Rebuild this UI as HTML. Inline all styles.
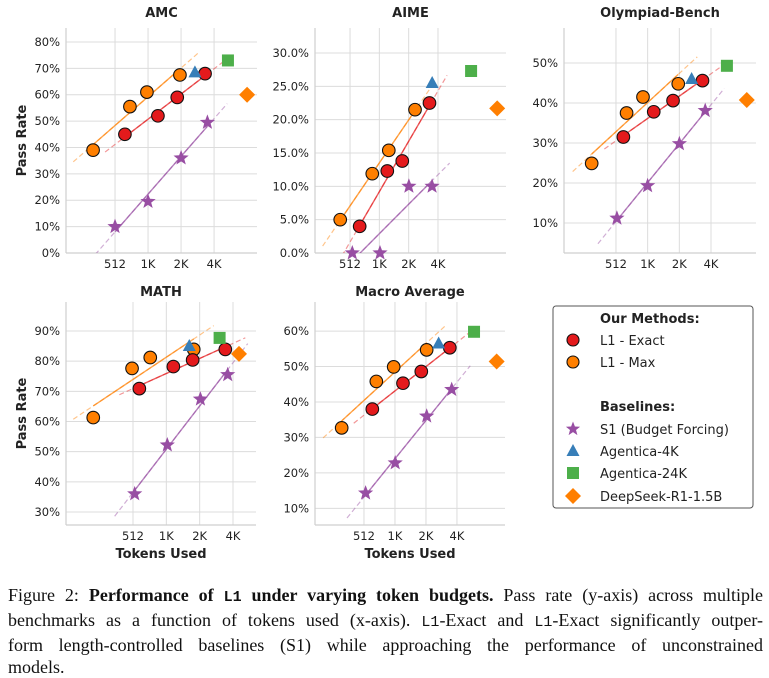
<!DOCTYPE html>
<html><head><meta charset="utf-8">
<style>
html,body{margin:0;padding:0;background:#fff;}
body{width:769px;height:674px;position:relative;overflow:hidden;}
svg{position:absolute;left:0;top:0;}
#caption{position:absolute;left:8px;top:584px;width:755px;font-family:"Liberation Serif",serif;font-size:18px;line-height:22px;color:#111;}
#caption div{white-space:nowrap;text-align:justify;text-align-last:justify;}
#caption div.last{text-align-last:left;}
.mono{font-family:"Liberation Mono",monospace;font-size:15px;}
</style></head>
<body>
<svg id="fig" width="769" height="574" font-family="DejaVu Sans, Liberation Sans, sans-serif"></svg>
<div id="caption">
<div>Figure 2: <b>Performance of <span class="mono">L1</span> under varying token budgets.</b> Pass rate (y-axis) across multiple</div>
<div>benchmarks as a function of tokens used (x-axis). <span class="mono">L1</span>-Exact and <span class="mono">L1</span>-Exact significantly outper-</div>
<div>form length-controlled baselines (S1) while approaching the performance of unconstrained</div>
<div class="last">models.</div>
</div>
<script>
// Data: tokens and pass rates (%) per panel
const panelNames = ["AMC","AIME","Olympiad-Bench","MATH","Macro Average"];
const maxTokens = [[323,700,1000,2000],[406,866,1280,2380],[301,646,925,2000],[224,502,733,1810],[311,675,995,2080]];
const maxRates = [[39,55.5,61,67.5],[5.0,11.9,15.4,21.5],[24.9,37.5,41.5,44.8],[61.3,77.6,81.2,83.9],[32.7,45.8,49.9,54.7]];
const exactTokens = [[630,1260,1890,3390],[643,1235,1760,3350],[602,1170,1785,3400],[584,1185,1770,3490],[617,1225,1845,3490]];
const exactRates = [[45,52,59,68],[4.0,12.3,13.8,22.5],[31.5,37.8,40.6,45.6],[70.9,78.2,80.4,83.9],[38,45.3,48.6,55.3]];
const s1Tokens = [[512,1024,2050,3560],[540,1040,2060,3560],[523,1024,2050,3610],[530,1045,2080,3670],[531,1030,2080,3640]];
const s1Rates = [[10,19.5,36,49.5],[0,0,10,10],[11.2,19.3,29.8,38.1],[36,52.2,67.4,75.5],[14.3,22.8,36,43.5]];
const agentica4kTokens = [2740,3570,2680,1650,2720];
const agentica4kRates = [68.5,25.5,46,85,56.5];
const agentica24kTokens = [5480,8960,5800,3100,6000];
const agentica24kRates = [73,27.3,49.3,87.7,59.8];
const deepseekTokens = [8190,16600,8960,4640,9950];
const deepseekRates = [60,21.7,40.75,82.4,51.4];
const xTickValues = [512,1024,2048,4096];
const xTickLabels = ["512","1K","2K","4K"];
const yTicks = [[0,10,20,30,40,50,60,70,80],[0,5,10,15,20,25,30],[10,20,30,40,50],[30,40,50,60,70,80,90],[10,20,30,40,50,60]];
const yTickDecimals = [0,1,0,0,0];

// Layout (pixels)
const layout = [
 {l:66,r:257,t:28,b:253,xmin:7.515,xmax:13.30,ymin:0,ymax:85.3,ylabel:true,xlabel:false,ty:17},
 {l:315,r:506,t:28,b:253,xmin:7.805,xmax:14.32,ymin:0,ymax:33.75,ylabel:false,xlabel:false,ty:17},
 {l:564,r:756,t:28,b:253,xmin:7.36,xmax:13.42,ymin:2.5,ymax:58.75,ylabel:false,xlabel:false,ty:17},
 {l:66,r:256,t:302,b:525,xmin:6.99,xmax:12.69,ymin:25.7,ymax:99.6,ylabel:true,xlabel:true,ty:296},
 {l:315,r:505,t:302,b:525,xmin:7.42,xmax:13.55,ymin:5.3,ymax:68.2,ylabel:false,xlabel:true,ty:296}
];
const C={red:"#e41a1c",orange:"#ff7f00",purple:"#984ea3",blue:"#377eb8",green:"#4daf4a"};
const NS="http://www.w3.org/2000/svg";
const svg=document.getElementById('fig');
function mk(tag,attrs,parent){const e=document.createElementNS(NS,tag);for(const k in attrs)e.setAttribute(k,attrs[k]);(parent||svg).appendChild(e);return e;}
function starPts(cx,cy,R){const r=R*0.42;let p=[];for(let i=0;i<10;i++){const a=-Math.PI/2+i*Math.PI/5;const rr=i%2?r:R;p.push((cx+rr*Math.cos(a)).toFixed(1)+","+(cy+rr*Math.sin(a)).toFixed(1));}return p.join(" ");}

layout.forEach((L,pi)=>{
  const g=mk('g',{});
  
  
  const X=t=>L.l+(Math.log2(t)-L.xmin)/(L.xmax-L.xmin)*(L.r-L.l);
  const Y=v=>L.b-(v-L.ymin)/(L.ymax-L.ymin)*(L.b-L.t);
  const clipId='clip'+pi;
  const cp=mk('clipPath',{id:clipId},g);mk('rect',{x:L.l,y:L.t,width:L.r-L.l,height:L.b-L.t},cp);
  yTicks[pi].forEach(v=>{
    const ln=mk('line',{x1:L.l,x2:L.r,y1:Y(v),y2:Y(v),stroke:"#dcdcdc","stroke-width":1},g);
    
    const tx=mk('text',{x:L.l-6,y:Y(v)+4,"text-anchor":"end","font-size":"11.5",fill:"#222"},g);
    tx.textContent=v.toFixed(yTickDecimals[pi])+"%";
    
  });
  xTickValues.forEach((t,i)=>{
    const ln=mk('line',{x1:X(t),x2:X(t),y1:L.t,y2:L.b,stroke:"#dcdcdc","stroke-width":1},g);
    
    const tx=mk('text',{x:X(t),y:L.b+15,"text-anchor":"middle","font-size":"11.5",fill:"#222"},g);
    tx.textContent=xTickLabels[i];
    
  });
  mk('line',{x1:L.l,x2:L.l,y1:L.t,y2:L.b,stroke:"#cfcfcf","stroke-width":1.2},g);
  mk('line',{x1:L.l,x2:L.r,y1:L.b,y2:L.b,stroke:"#cfcfcf","stroke-width":1.2},g);
  const tt=mk('text',{x:(L.l+L.r)/2,y:L.ty,"text-anchor":"middle","font-size":"13","font-weight":"bold",fill:"#222"},g);
  tt.textContent=panelNames[pi];
  if(L.ylabel){const yl=mk('text',{x:0,y:0,transform:`translate(26,${(L.t+L.b)/2}) rotate(-90)`,"text-anchor":"middle","font-size":"13","font-weight":"bold",fill:"#222"},g);yl.textContent="Pass Rate";}
  if(L.xlabel){const xl=mk('text',{x:(L.l+L.r)/2,y:558,"text-anchor":"middle","font-size":"13","font-weight":"bold",fill:"#222"},g);xl.textContent="Tokens Used";}
  function fit(ts,vs,color,name){
    const xs=ts.map(Math.log2);const n=xs.length;const mx=xs.reduce((a,b)=>a+b)/n,my=vs.reduce((a,b)=>a+b)/n;
    let sxy=0,sxx=0;xs.forEach((x,i)=>{sxy+=(x-mx)*(vs[i]-my);sxx+=(x-mx)*(x-mx);});
    const s=sxy/sxx,b=my-s*mx;const lo=Math.min(...xs),hi=Math.max(...xs);
    const P=x=>[L.l+(x-L.xmin)/(L.xmax-L.xmin)*(L.r-L.l),Y(s*x+b)];
    const cg=mk('g',{"clip-path":`url(#${clipId})`},g);
    const [a1,b1]=P(lo-0.6),[a2,b2]=P(hi+0.6),[c1,d1]=P(lo),[c2,d2]=P(hi);
    const dl=mk('line',{x1:a1,y1:b1,x2:a2,y2:b2,stroke:color,"stroke-width":1.2,"stroke-dasharray":"5,3",opacity:0.45},cg);
    
    const sl=mk('line',{x1:c1,y1:d1,x2:c2,y2:d2,stroke:color,"stroke-width":1.4,opacity:0.7},cg);
    
  }
  fit(maxTokens[pi],maxRates[pi],C.orange,'l1-max');
  fit(exactTokens[pi],exactRates[pi],C.red,'l1-exact');
  fit(s1Tokens[pi],s1Rates[pi],C.purple,'s1');
  s1Tokens[pi].forEach((t,i)=>{const e=mk('polygon',{points:starPts(X(t),Y(s1Rates[pi][i]),8),fill:C.purple},g);});
  maxTokens[pi].forEach((t,i)=>{const e=mk('circle',{cx:X(t),cy:Y(maxRates[pi][i]),r:6.3,fill:C.orange,stroke:"#111","stroke-width":1.1},g);});
  exactTokens[pi].forEach((t,i)=>{const e=mk('circle',{cx:X(t),cy:Y(exactRates[pi][i]),r:6.3,fill:C.red,stroke:"#111","stroke-width":1.1},g);});
  let x=X(agentica4kTokens[pi]),y=Y(agentica4kRates[pi]);
  let e=mk('polygon',{points:`${x},${y-7} ${x-6.5},${y+5} ${x+6.5},${y+5}`,fill:C.blue},g);
  x=X(agentica24kTokens[pi]);y=Y(agentica24kRates[pi]);
  e=mk('rect',{x:x-6,y:y-6,width:12,height:12,fill:C.green},g);
  x=X(deepseekTokens[pi]);y=Y(deepseekRates[pi]);
  e=mk('polygon',{points:`${x},${y-8} ${x+8},${y} ${x},${y+8} ${x-8},${y}`,fill:C.orange},g);
});

const lg=mk('g',{});

mk('rect',{x:553,y:306,width:200,height:202,rx:3,fill:"#fff",stroke:"#555","stroke-width":1},lg);
const entries=[["Our Methods:",318,null],["L1 - Exact",340,"exact"],["L1 - Max",362,"max"],["Baselines:",406,null],["S1 (Budget Forcing)",429,"s1"],["Agentica-4K",451,"a4"],["Agentica-24K",473,"a24"],["DeepSeek-R1-1.5B",496,"ds"]];
entries.forEach(([label,y,k])=>{
  const t=mk('text',{x:600,y:y+5,"font-size":"13",fill:"#222","font-weight":k?"normal":"bold"},lg);t.textContent=label;
  
  const mx=573;
  if(k==="exact")mk('circle',{cx:mx,cy:y,r:6,fill:C.red,stroke:"#111","stroke-width":1.1},lg);
  if(k==="max")mk('circle',{cx:mx,cy:y,r:6,fill:C.orange,stroke:"#111","stroke-width":1.1},lg);
  if(k==="s1")mk('polygon',{points:starPts(mx,y,7.5),fill:C.purple},lg);
  if(k==="a4")mk('polygon',{points:`${mx},${y-7} ${mx-6.5},${y+5} ${mx+6.5},${y+5}`,fill:C.blue},lg);
  if(k==="a24")mk('rect',{x:mx-6,y:y-6,width:12,height:12,fill:C.green},lg);
  if(k==="ds")mk('polygon',{points:`${mx},${y-8} ${mx+8},${y} ${mx},${y+8} ${mx-8},${y}`,fill:C.orange},lg);
});
</script>
</body></html>
